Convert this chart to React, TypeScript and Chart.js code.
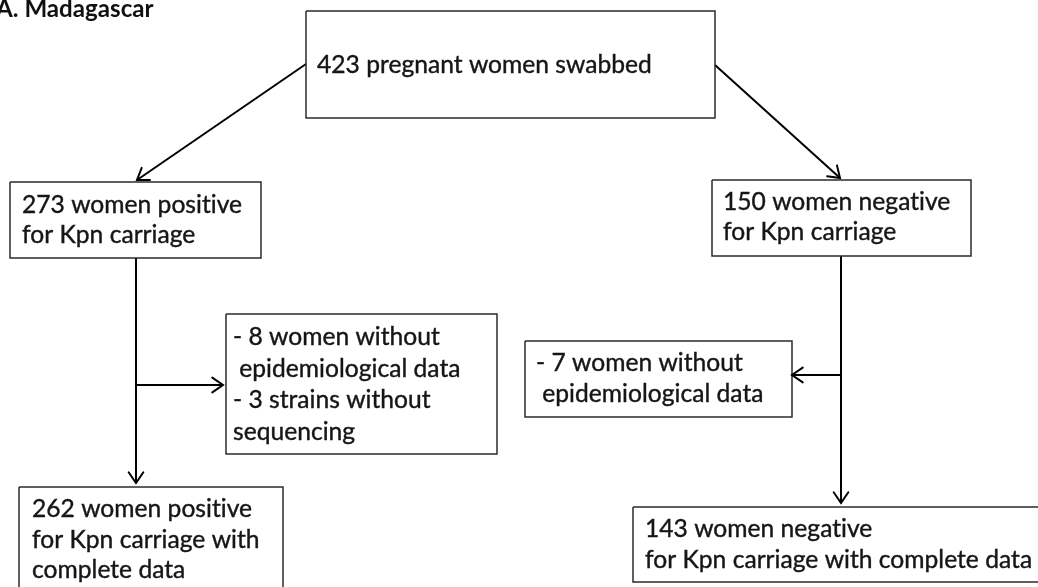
import { useEffect, useRef } from "react";
import { Chart, registerables } from "chart.js";

Chart.register(...registerables);

// ---- data ----
const TITLE = "A. Madagascar";
const stageCounts = [423, 273, 150, 262, 143]; // swabbed, positive, negative, positive complete, negative complete
const exclusionCounts = [8, 3, 7]; // positive w/o epi data, strains w/o sequencing, negative w/o epi data

const boxLines: string[][] = [
  [`${stageCounts[0]} pregnant women swabbed`],
  [`${stageCounts[1]} women positive`, "for Kpn carriage"],
  [`${stageCounts[2]} women negative`, "for Kpn carriage"],
  [`- ${exclusionCounts[0]} women without`, " epidemiological data", `- ${exclusionCounts[1]} strains without`, "sequencing"],
  [`- ${exclusionCounts[2]} women without`, " epidemiological data"],
  [`${stageCounts[3]} women positive`, "for Kpn carriage with", "complete data"],
  [`${stageCounts[4]} women negative`, "for Kpn carriage with complete data"],
];

// ---- layout (in scale units) ----
const boxLeft = [306, 10, 712, 226, 525, 19, 633];
const boxTop = [11, 182, 180, 314, 341, 487, 507];
const boxRight = [715, 261, 971, 497, 792, 283, 1045];
const boxBottom = [118, 258, 256, 454, 417, 600, 582];
const textLeft = [317, 22, 723, 233, 536, 32, 645];
const lineBaselines: number[][] = [
  [73],
  [213, 243],
  [210, 240],
  [345, 377, 408, 440],
  [371, 402],
  [517, 548, 578],
  [537, 568],
];
const connFromX = [306, 715, 136, 136, 841, 841];
const connFromY = [64, 65, 258, 385, 256, 375];
const connToX = [137, 840, 136, 223, 841, 792];
const connToY = [180, 178, 483, 385, 503, 375];

const FONT_FAMILY = "Lato, 'Open Sans', sans-serif";
const REF_TEXT_WIDTH = 335; // width of first box line

export default function App() {
  const ref = useRef<HTMLCanvasElement | null>(null);

  useEffect(() => {
    document.body.style.margin = "0";
    const canvas = ref.current;
    if (!canvas) return;

    const datasets: any[] = [];
    for (let i = 0; i < boxLeft.length; i++) {
      datasets.push({
        data: [
          { x: boxLeft[i], y: boxTop[i] },
          { x: boxRight[i], y: boxTop[i] },
          { x: boxRight[i], y: boxBottom[i] },
          { x: boxLeft[i], y: boxBottom[i] },
          { x: boxLeft[i], y: boxTop[i] },
        ],
        showLine: true,
        pointRadius: 0,
        borderColor: "#2b2b2b",
        borderWidth: 1.5,
        borderJoinStyle: "miter",
        fill: false,
        clip: false,
        tension: 0,
      });
    }
    for (let i = 0; i < connFromX.length; i++) {
      datasets.push({
        data: [
          { x: connFromX[i], y: connFromY[i] },
          { x: connToX[i], y: connToY[i] },
        ],
        showLine: true,
        pointRadius: 0,
        borderColor: "#000000",
        borderWidth: 2,
        fill: false,
        clip: false,
        tension: 0,
      });
    }

    const overlay = {
      id: "flowOverlay",
      beforeDraw(chart: any) {
        const c = chart.ctx;
        c.save();
        c.fillStyle = "#ffffff";
        c.fillRect(0, 0, chart.width, chart.height);
        c.restore();
      },
      afterDatasetsDraw(chart: any) {
        const c = chart.ctx;
        const xs = chart.scales.x;
        const ys = chart.scales.y;
        // arrowheads
        c.save();
        c.strokeStyle = "#000000";
        c.lineWidth = 2;
        c.lineCap = "round";
        c.lineJoin = "miter";
        for (let i = 0; i < connFromX.length; i++) {
          const x0 = xs.getPixelForValue(connFromX[i]);
          const y0 = ys.getPixelForValue(connFromY[i]);
          const x1 = xs.getPixelForValue(connToX[i]);
          const y1 = ys.getPixelForValue(connToY[i]);
          const ang = Math.atan2(y1 - y0, x1 - x0);
          const len = 13;
          const spread = 0.6;
          c.beginPath();
          c.moveTo(x1 - len * Math.cos(ang - spread), y1 - len * Math.sin(ang - spread));
          c.lineTo(x1, y1);
          c.lineTo(x1 - len * Math.cos(ang + spread), y1 - len * Math.sin(ang + spread));
          c.stroke();
        }
        c.restore();

        // text size fitted to the reference line width
        c.save();
        try {
          (c as any).textRendering = "optimizeSpeed";
          (c as any).letterSpacing = "0.01px";
        } catch (e) {
          /* ignore */
        }
        c.font = `26px ${FONT_FAMILY}`;
        const w = c.measureText(boxLines[0][0]).width;
        const size = (26 * REF_TEXT_WIDTH) / w;
        c.fillStyle = "#161616";
        c.strokeStyle = "#161616";
        c.lineWidth = 0.4;
        c.textBaseline = "alphabetic";
        c.textAlign = "left";
        c.font = `${size.toFixed(2)}px ${FONT_FAMILY}`;
        for (let i = 0; i < boxLines.length; i++) {
          for (let j = 0; j < boxLines[i].length; j++) {
            const tx = xs.getPixelForValue(textLeft[i]);
            const ty = ys.getPixelForValue(lineBaselines[i][j]);
            c.fillText(boxLines[i][j], tx, ty);
            c.strokeText(boxLines[i][j], tx, ty);
          }
        }
        c.font = `bold ${(size * 0.98).toFixed(2)}px ${FONT_FAMILY}`;
        c.fillStyle = "#111111";
        c.fillText(TITLE, xs.getPixelForValue(-4), ys.getPixelForValue(17));
        c.restore();
      },
    };

    const chart = new Chart(canvas, {
      type: "scatter",
      data: { datasets },
      options: {
        animation: false,
        responsive: false,
        layout: { padding: 0 },
        events: [],
        plugins: {
          legend: { display: false },
          tooltip: { enabled: false },
          title: { display: false },
        },
        scales: {
          x: { type: "linear", min: 0, max: 1038, display: false },
          y: { type: "linear", min: 0, max: 587, reverse: true, display: false },
        },
      },
      plugins: [overlay],
    } as any);

    return () => chart.destroy();
  }, []);

  return (
    <div style={{ position: "fixed", left: 0, top: 0, width: 1038, height: 587 }}>
      <canvas ref={ref} width={1038} height={587} style={{ display: "block" }} />
    </div>
  );
}
